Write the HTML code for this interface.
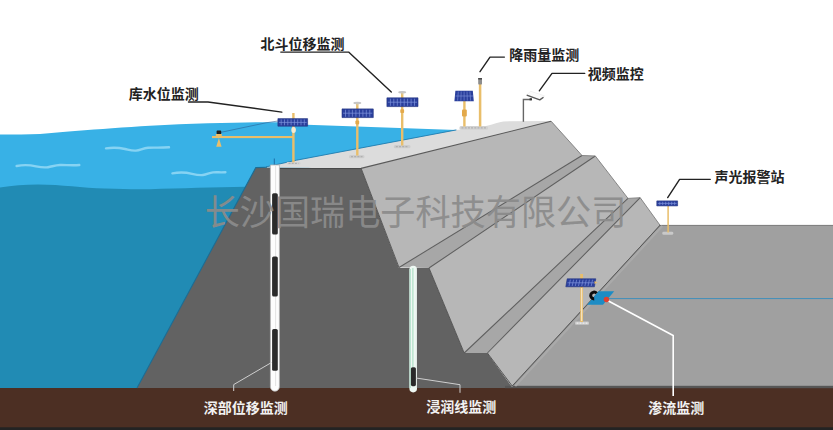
<!DOCTYPE html>
<html><head><meta charset="utf-8"><title>dam monitoring</title>
<style>html,body{margin:0;padding:0;background:#fff;font-family:"Liberation Sans",sans-serif}svg{display:block}</style>
</head><body>
<svg width="833" height="430" viewBox="0 0 833 430">
<rect width="833" height="430" fill="#fff"/>
<path d="M0,134.6 C15,134.6 28,134.6 40,134 C52,133.2 62,132 75,131 C88,130 100,129.2 112,128.3 C125,127.3 138,126.4 150,125.7 C170,124.6 188,123.8 208,123.3 C238,122.5 262,122 281,122.3 C295,122.7 300,124.2 307,124.7 L456.4,130 L462,130.5 L330,160 L290,175 L290,200 L0,200Z" fill="#38B1E6"/>
<path d="M0,187.6 C12,185.6 25,184.4 38,184.4 C62,184.6 82,187.6 105,188.6 C125,189.4 140,189.4 150,189.2 C180,188.4 215,187.2 246,186.8 L290,186.6 L290,389 L0,389Z" fill="#218BB4"/>
<path d="M16.6,166 C24,164.6 30,165 36,166.3 S44,167.8 48,167.2 S55,165.2 60,165 S72,165.6 79.3,165" stroke="#86D3F3" stroke-width="2.4" fill="none" stroke-linecap="round" stroke-linejoin="round"/>
<path d="M106,148.4 C113,147.2 119,147.6 125,149 S132,150.9 136,150.6 S143,148.2 148,147.8 S160,148 169,147.3" stroke="#86D3F3" stroke-width="2.4" fill="none" stroke-linecap="round" stroke-linejoin="round"/>
<path d="M172.4,173.4 C180,172 186,172.4 192,173.8 S199,175.4 203,175 S209,172.8 213,172.4 S220,172.6 225.4,172.2" stroke="#86D3F3" stroke-width="2.4" fill="none" stroke-linecap="round" stroke-linejoin="round"/>
<rect x="0" y="388" width="833" height="42" fill="#4c2f23"/>
<rect x="0" y="427.3" width="833" height="3" fill="#232323"/>
<polygon points="660,225.3 833,225.3 833,386.5 512,386.5" fill="#a0a0a0"/>
<line x1="659" y1="225.4" x2="833" y2="225.4" stroke="#7a7a7a" stroke-width="1"/>
<polygon points="255.8,167.6 361,168 399,268 429,268 464.2,353 487.4,353 513,388 137,388" fill="#626262"/>
<rect x="505" y="385.8" width="328" height="2.4" fill="#565656"/>
<polygon points="361,168 551,121.1 582,155.5 399,267.5" fill="#b7b7b7"/>
<polygon points="429,268 595.3,156 628,198.4 464.2,353" fill="#b7b7b7"/>
<polygon points="487.4,353 640.2,197.7 660,225.2 512,387" fill="#b7b7b7"/>
<polygon points="399,267.5 582,155.5 595.3,156 429,268" fill="#a7a7a7"/>
<polygon points="464.2,353 628,198.4 640.2,197.7 487.4,353" fill="#a7a7a7"/>
<path d="M399,267.5 L582,155.5 M429,268 L595.3,156 M464.2,353 L628,198.4 M487.4,353 L640.2,197.7" stroke="#5e5e5e" stroke-width="1.05" fill="none"/>
<path d="M551,121.1 L582,155.5 L595.3,156 L628,198.4 L640.2,197.7 L660,225.2 L512,387" stroke="#7d7d7d" stroke-width="0.9" fill="none"/>
<path d="M662.3,226 L515.3,386" stroke="#aaaaaa" stroke-width="2" fill="none"/>
<path d="M660.3,225 L512.2,386" stroke="#565656" stroke-width="1" fill="none"/>
<path d="M264,167.6 L361,168.3 L551,121.1 L503.4,121.4 C498,122.2 495,123.4 492,124.4 L485,126.3 L456.4,129.9 L296.5,160.2 L266,166.9Z" fill="#dcdcdc"/>
<path d="M279.5,168.5 L361,168.6" stroke="#474747" stroke-width="1" fill="none"/>
<path d="M361,168.4 L551,121.3" stroke="#5a5a5a" stroke-width="1.1" fill="none"/>
<path d="M266,166.9 L296.5,160.2 L456.4,129.9" stroke="#1f7db0" stroke-width="0.9" fill="none"/>
<path d="M361,168 L399,267.5 M429,268 L464.2,353 M487.4,353 L512.2,386" stroke="#4c4c4c" stroke-width="0.9" fill="none"/>
<path d="M267,167.2 L255.8,167.6 L137,388" stroke="#1d6d94" stroke-width="1.1" fill="none"/>
<path d="M274.3,158.5 V166" stroke="#1d6fa8" stroke-width="1"/>
<path d="M270.4,165 H279.4 V386.7 A4.5,4.5 0 0 1 270.4,386.7Z" fill="#fdfdfd" stroke="#b5b5b5" stroke-width="0.8"/>
<path d="M275.6,166 V386" stroke="#d9d9d9" stroke-width="0.7"/>
<rect x="272.1" y="193.2" width="5.7" height="41.3" rx="1.6" fill="#2a2a2a"/>
<rect x="272.1" y="256.4" width="5.7" height="40.1" rx="1.6" fill="#2a2a2a"/>
<rect x="272.1" y="329" width="5.7" height="41.8" rx="1.6" fill="#2a2a2a"/>
<path d="M271.5,362.5 L233.7,384.6 V391" stroke="#cfcfcf" stroke-width="1" fill="none"/>
<path d="M409.4,269.6 A3.8,3.8 0 0 1 417,269.6 V388.6 A3.8,3.8 0 0 1 409.4,388.6Z" fill="#eef8f3"/>
<path d="M410.2,269 V388" stroke="#b5e2cf" stroke-width="1.4"/>
<path d="M412.9,268 V367" stroke="#8fd3ad" stroke-width="0.8"/>
<path d="M416.4,269 V388" stroke="#dfe6e2" stroke-width="0.9"/>
<rect x="410.9" y="367.2" width="5" height="19" rx="1.6" fill="#2a2a2a"/>
<path d="M416,378 L460,384.7 V392.8" stroke="#cfcfcf" stroke-width="1" fill="none"/>
<rect x="286.5" y="161.9" width="14.0" height="2.799999999999983" rx="1.5" fill="#d4d4d4"/><path d="M288.5,163.3 H298.5" stroke="#b0b0b0" stroke-width="1.2" stroke-dasharray="2 1.2"/>
<rect x="292.20" y="113" width="2.4" height="49.3" fill="#E9BE6A"/>
<rect x="212" y="136" width="82" height="2.1" fill="#E9BE6A"/>
<path d="M221,132.3 L266,122.8 L278,121" stroke="#2a5f96" stroke-width="0.6" fill="none"/>
<rect x="216.6" y="130.6" width="4.6" height="3.6" rx="0.8" fill="#1e1e1e"/>
<rect x="215.8" y="134" width="6" height="2.2" fill="#E9BE6A"/>
<polygon points="218.9,138 221.6,146.8 216.2,146.8" fill="#E9BE6A"/>
<g><polygon points="277.9,118.6 307.6,118.6 307.6,126.2 277.9,126.2" fill="#2A3F9C"/><path d="M281.2,119.39999999999999 L281.2,125.4M284.5,119.39999999999999 L284.5,125.4M287.8,119.39999999999999 L287.8,125.4M291.1,119.39999999999999 L291.1,125.4M294.4,119.39999999999999 L294.4,125.4M297.7,119.39999999999999 L297.7,125.4M301.0,119.39999999999999 L301.0,125.4M304.3,119.39999999999999 L304.3,125.4M278.9,122.4 H306.6" stroke="#7f93dc" stroke-width="0.7" fill="none"/><polygon points="277.9,118.6 307.6,118.6 307.6,126.2 277.9,126.2" fill="none" stroke="#22337f" stroke-width="0.6"/></g>
<ellipse cx="293.6" cy="130" rx="2.3" ry="2.9" fill="#f6ead0"/>
<rect x="349" y="155" width="15.5" height="3.3000000000000114" rx="1.5" fill="#cdcdcd"/><path d="M351,156.65 H362.5" stroke="#b0b0b0" stroke-width="1.2" stroke-dasharray="2 1.2"/>
<rect x="356.10" y="104" width="2.4" height="51.5" fill="#E9BE6A"/>
<ellipse cx="357.3" cy="103" rx="4" ry="1.2" fill="#c6c6c6"/><path d="M357.3,103 V105.5" stroke="#d0c8b0" stroke-width="1"/>
<g><polygon points="342,108.9 373.3,108.9 373.3,117.6 342,117.6" fill="#2A3F9C"/><path d="M345.5,109.7 L345.5,116.8M349.0,109.7 L349.0,116.8M352.4,109.7 L352.4,116.8M355.9,109.7 L355.9,116.8M359.4,109.7 L359.4,116.8M362.9,109.7 L362.9,116.8M366.3,109.7 L366.3,116.8M369.8,109.7 L369.8,116.8M343.0,113.2 H372.3" stroke="#7f93dc" stroke-width="0.7" fill="none"/><polygon points="342,108.9 373.3,108.9 373.3,117.6 342,117.6" fill="none" stroke="#22337f" stroke-width="0.6"/></g>
<rect x="355.4" y="120.6" width="3.8" height="3.8" rx="0.8" fill="#E3A94A"/>
<rect x="393.8" y="145" width="16.69999999999999" height="3.3000000000000114" rx="1.5" fill="#cdcdcd"/><path d="M395.8,146.65 H408.5" stroke="#b0b0b0" stroke-width="1.2" stroke-dasharray="2 1.2"/>
<rect x="401.00" y="93" width="2.4" height="52.5" fill="#E9BE6A"/>
<ellipse cx="402.2" cy="92.2" rx="4" ry="1.2" fill="#c6c6c6"/><path d="M402.2,92.2 V94.7" stroke="#d0c8b0" stroke-width="1"/>
<g><polygon points="386.9,97.8 418,97.8 418,106.6 386.9,106.6" fill="#2A3F9C"/><path d="M390.4,98.6 L390.4,105.8M393.8,98.6 L393.8,105.8M397.3,98.6 L397.3,105.8M400.7,98.6 L400.7,105.8M404.2,98.6 L404.2,105.8M407.6,98.6 L407.6,105.8M411.1,98.6 L411.1,105.8M414.5,98.6 L414.5,105.8M387.9,102.2 H417.0" stroke="#7f93dc" stroke-width="0.7" fill="none"/><polygon points="386.9,97.8 418,97.8 418,106.6 386.9,106.6" fill="none" stroke="#22337f" stroke-width="0.6"/></g>
<rect x="400.3" y="109.2" width="3.8" height="3.8" rx="0.8" fill="#E3A94A"/>
<rect x="459.5" y="126" width="28.5" height="3.8000000000000114" rx="1.5" fill="#d2d2d2"/><path d="M461.5,127.9 H486" stroke="#b0b0b0" stroke-width="1.2" stroke-dasharray="2 1.2"/>
<rect x="463.20" y="100" width="2.4" height="26.5" fill="#E9BE6A"/>
<polygon points="455.4,90.8 472.8,90.8 473.8,101.3 454.4,101.3" fill="#2A3F9C"/>
<path d="M458.3,91.5 L457.6,100.6M461.2,91.5 L460.9,100.6M464.1,91.5 L464.1,100.6M467.0,91.5 L467.3,100.6M469.9,91.5 L470.6,100.6M455.5,96 H473" stroke="#7f93dc" stroke-width="0.6" fill="none"/>
<rect x="462" y="109.4" width="4.8" height="7" rx="1" fill="#E3A94A"/>
<rect x="478.85" y="84" width="2.5" height="42.5" fill="#E9BE6A"/>
<rect x="478.2" y="78" width="3.8" height="6.4" rx="0.7" fill="#8d8d8d"/><rect x="478.2" y="78" width="3.8" height="1.5" fill="#4a4a4a"/>
<path d="M523.4,121.8 V99.5 H530.6" stroke="#666" stroke-width="1.4" fill="none"/>
<rect x="529.6" y="98.2" width="2.4" height="2.2" fill="#333"/>
<polygon points="527.2,94.6 530.5,91.2 544.6,95.8 543.6,97.4 539.8,99.9 526.7,95.2" fill="#fbfbfb" stroke="#e6e6e6" stroke-width="0.5"/>
<path d="M526.7,95.2 L539.8,99.9 L543.5,97.3" stroke="#595959" stroke-width="1.4" fill="none" stroke-linejoin="round"/>
<rect x="662.3" y="231.7" width="11" height="3.1" rx="1.4" fill="#c9c9c9"/>
<rect x="667.35" y="206" width="1.5" height="26.5" fill="#E9BE6A"/>
<g><polygon points="656.8,200.9 677.6,200.9 677.6,205.9 656.8,205.9" fill="#2A3F9C"/><path d="M659.8,201.70000000000002 L659.8,205.1M662.7,201.70000000000002 L662.7,205.1M665.7,201.70000000000002 L665.7,205.1M668.7,201.70000000000002 L668.7,205.1M671.7,201.70000000000002 L671.7,205.1M674.6,201.70000000000002 L674.6,205.1M657.8,203.4 H676.6" stroke="#7f93dc" stroke-width="0.7" fill="none"/><polygon points="656.8,200.9 677.6,200.9 677.6,205.9 656.8,205.9" fill="none" stroke="#22337f" stroke-width="0.6"/></g>
<rect x="575" y="321.4" width="14" height="3.4" rx="1" fill="#c9c9c9"/><path d="M576.5,323.1 H587.5" stroke="#efefef" stroke-width="1.4" stroke-dasharray="2 1"/>
<rect x="580.20" y="274" width="2.8" height="48.0" fill="#E9BE6A"/>
<rect x="581.2" y="288" width="1" height="33" fill="#f8ecd2"/>
<g><polygon points="567.1999999999999,278.8 595.8,278.8 594.4,286.8 565.8,286.8" fill="#2A3F9C"/><path d="M570.4,279.6 L569.0,286.0M573.6,279.6 L572.2,286.0M576.7,279.6 L575.3,286.0M579.9,279.6 L578.5,286.0M583.1,279.6 L581.7,286.0M586.3,279.6 L584.9,286.0M589.4,279.6 L588.0,286.0M592.6,279.6 L591.2,286.0M567.5,282.8 H594.1" stroke="#7f93dc" stroke-width="0.7" fill="none"/><polygon points="567.1999999999999,278.8 595.8,278.8 594.4,286.8 565.8,286.8" fill="none" stroke="#22337f" stroke-width="0.6"/></g>
<polygon points="594.5,281 597.5,282.5 594.5,284" fill="#E9BE6A"/>
<polygon points="598.4,291.3 614.2,291.3 603,304.7 587.2,304.7" fill="#1d8cc4"/>
<path d="M596.6,293.2 A3.4,3.4 0 1 0 594.2,298.9" stroke="#0d0d0d" stroke-width="3" fill="none"/>
<path d="M608,298.6 H833" stroke="#3f8fbb" stroke-width="1"/>
<path d="M607.5,300.5 L673.2,335.6 V396" stroke="#fff" stroke-width="1.6" fill="none" stroke-linejoin="miter"/>
<circle cx="606.4" cy="299.5" r="2.7" fill="#e0402e"/>
<path d="M188.5,102 H208 L281.8,112.1" stroke="#222" stroke-width="1.4" fill="none" stroke-linejoin="round" stroke-linecap="round"/>
<path d="M280.8,52.1 H348.6 L391.3,92" stroke="#222" stroke-width="1.4" fill="none" stroke-linejoin="round" stroke-linecap="round"/>
<path d="M504.4,57.1 H490 L480,71.7" stroke="#222" stroke-width="1.4" fill="none" stroke-linejoin="round" stroke-linecap="round"/>
<path d="M584.7,73.4 H552 L539.3,90.8" stroke="#222" stroke-width="1.4" fill="none" stroke-linejoin="round" stroke-linecap="round"/>
<path d="M710.2,179.4 H679.6 L667.7,197.6" stroke="#222" stroke-width="1.4" fill="none" stroke-linejoin="round" stroke-linecap="round"/>
<text x="128.71" y="98.5" font-size="14" font-weight="bold" fill="#222" font-family="&quot;Liberation Sans&quot;, &quot;Noto Sans CJK SC&quot;, sans-serif">库水位监测</text>
<text x="260.62" y="49.09" font-size="14" font-weight="bold" fill="#222" font-family="&quot;Liberation Sans&quot;, &quot;Noto Sans CJK SC&quot;, sans-serif">北斗位移监测</text>
<text x="509.29" y="60.11" font-size="14" font-weight="bold" fill="#222" font-family="&quot;Liberation Sans&quot;, &quot;Noto Sans CJK SC&quot;, sans-serif">降雨量监测</text>
<text x="587.71" y="78.71" font-size="14" font-weight="bold" fill="#222" font-family="&quot;Liberation Sans&quot;, &quot;Noto Sans CJK SC&quot;, sans-serif">视频监控</text>
<text x="714.53" y="182.11" font-size="14" font-weight="bold" fill="#222" font-family="&quot;Liberation Sans&quot;, &quot;Noto Sans CJK SC&quot;, sans-serif">声光报警站</text>
<text x="203.81" y="413.19" font-size="14" font-weight="bold" fill="#f2f2f2" font-family="&quot;Liberation Sans&quot;, &quot;Noto Sans CJK SC&quot;, sans-serif">深部位移监测</text>
<text x="426.34" y="412.37" font-size="14" font-weight="bold" fill="#f2f2f2" font-family="&quot;Liberation Sans&quot;, &quot;Noto Sans CJK SC&quot;, sans-serif">浸润线监测</text>
<text x="648.25" y="412.8" font-size="14" font-weight="bold" fill="#f2f2f2" font-family="&quot;Liberation Sans&quot;, &quot;Noto Sans CJK SC&quot;, sans-serif">渗流监测</text>
<text x="204.63" y="225.25" font-size="35.15" fill="#8b8b8b" opacity="0.93" font-family="&quot;Liberation Sans&quot;, &quot;Noto Sans CJK SC&quot;, sans-serif">长沙国瑞电子科技有限公司</text>
</svg>
</body></html>
